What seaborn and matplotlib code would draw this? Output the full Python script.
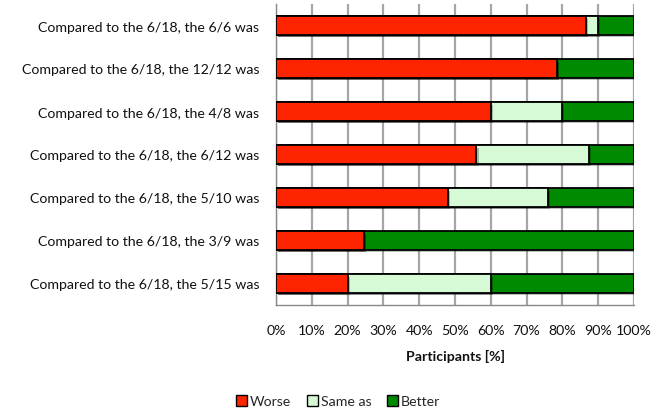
import matplotlib
matplotlib.use("Agg")
import matplotlib.pyplot as plt
from matplotlib.patches import Patch
import matplotlib.patheffects as pe
import numpy as np
import pandas as pd
import seaborn as sns

comparisons = [
    "Compared to the 6/18, the 6/6 was",
    "Compared to the 6/18, the 12/12 was",
    "Compared to the 6/18, the 4/8 was",
    "Compared to the 6/18, the 6/12 was",
    "Compared to the 6/18, the 5/10 was",
    "Compared to the 6/18, the 3/9 was",
    "Compared to the 6/18, the 5/15 was",
]
worse = [86.7, 78.4, 60.0, 56.0, 48.0, 24.6, 20.0]
same_as = [3.3, 0.0, 20.0, 31.4, 28.0, 0.0, 40.0]
better = [10.0, 21.6, 20.0, 12.6, 24.0, 75.4, 40.0]

series = ["Worse", "Same as", "Better"]
colors = {"Worse": "#FF2400", "Same as": "#D5FAD5", "Better": "#008A00"}

sns.set_theme(style="white")
plt.rcParams["font.family"] = ["Lato", "DejaVu Sans"]

df = pd.DataFrame({"comparison": comparisons, "Worse": worse,
                   "Same as": same_as, "Better": better})
# cumulative right edges for stacking
df["cum_Worse"] = df["Worse"]
df["cum_Same as"] = df["Worse"] + df["Same as"]
df["cum_Better"] = df["Worse"] + df["Same as"] + df["Better"]

fig = plt.figure(figsize=(6.66, 4.10), dpi=100)
ax = fig.add_axes([276 / 666, 1 - 306 / 410, 358 / 666, 301 / 410])

shadow = [pe.SimplePatchShadow(offset=(1.5, -1.5), shadow_rgbFace="#000000", alpha=0.25), pe.Normal()]
for name in reversed(series):
    sns.barplot(data=df, y="comparison", x=f"cum_{name}", orient="h",
                color=colors[name], edgecolor="black", linewidth=1.3,
                width=0.42, saturation=1, ax=ax, zorder=3)
for p in ax.patches:
    p.set_path_effects(shadow)

fs = 10.2
ax.set_xlim(0, 100)
ax.set_ylim(6.5, -0.5)
ax.set_xticks(np.arange(0, 101, 10))
ax.set_xticklabels([f"{v}%" for v in range(0, 101, 10)], fontsize=fs, color="#111111")
ax.set_yticks(np.arange(-0.5, 7, 1), minor=True)
ax.tick_params(axis="y", which="major", length=0, labelsize=fs, labelcolor="#111111", pad=12)
ax.tick_params(axis="y", which="minor", length=5, color="#888888", width=1, direction="out")
ax.tick_params(axis="x", length=5, color="#888888", width=1, direction="out", pad=9)
ax.set_ylabel("")
ax.set_xlabel("Participants [%]", fontsize=fs, fontweight="bold", labelpad=9, color="#111111")

ax.grid(axis="x", color="#A6A6A6", linewidth=1.6, zorder=0)
ax.set_axisbelow(True)
for side in ["top", "right"]:
    ax.spines[side].set_visible(False)
for side in ["left", "bottom"]:
    ax.spines[side].set_color("#888888")
    ax.spines[side].set_linewidth(1)

handles = [Patch(facecolor=colors[s], edgecolor="black", linewidth=1, label=s) for s in series]
fig.legend(handles=handles, loc="center", bbox_to_anchor=(338 / 666, 1 - 402 / 410),
           ncol=3, frameon=False, fontsize=fs, handlelength=0.8, handleheight=0.8,
           handletextpad=0.2, columnspacing=1.1)

fig.savefig("out.png", dpi=100)
